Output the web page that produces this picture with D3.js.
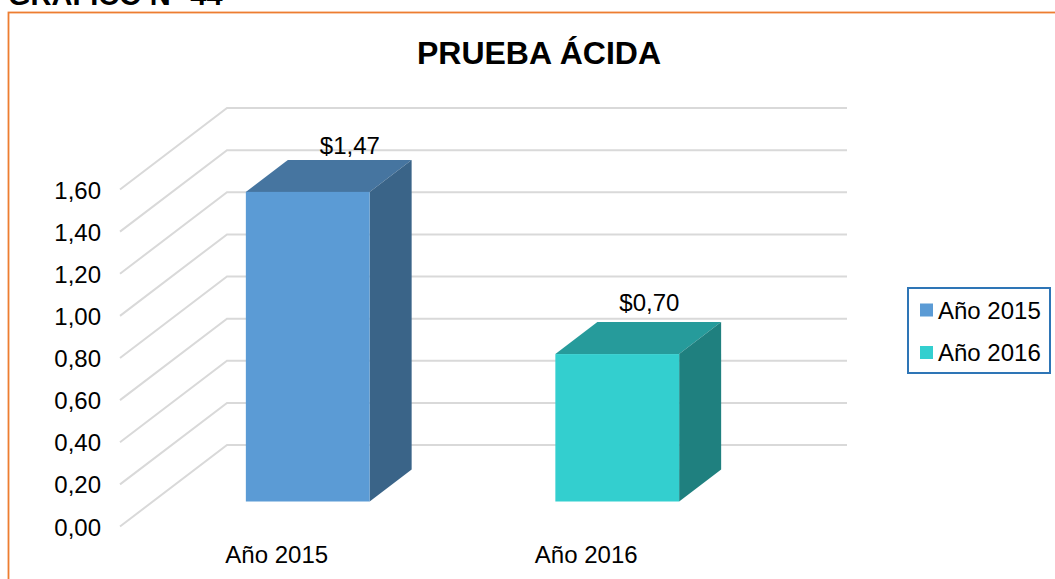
<!DOCTYPE html>
<html>
<head>
<meta charset="utf-8">
<script src="https://cdn.jsdelivr.net/npm/d3@7"></script>
<style>
html, body { margin: 0; padding: 0; background: #fff; overflow: hidden; }
text { font-family: "Liberation Sans", Arial, sans-serif; fill: #000; }
</style>
</head>
<body>
<div id="chart"></div>
<script>
// Data
const categories = ["Año 2015", "Año 2016"];
const values = [1.47, 0.70];
const valueLabels = ["$1,47", "$0,70"];
const yTicks = [0, 0.2, 0.4, 0.6, 0.8, 1.0, 1.2, 1.4, 1.6];
const frontColors = ["#5b9bd5", "#33cfcf"];
const topColors = ["#4675a0", "#269b9b"];
const sideColors = ["#3a6488", "#1f807f"];

const width = 1055, height = 579;

const svg = d3.select("#chart")
  .append("svg")
  .attr("width", width)
  .attr("height", height);

// Left wall front edge, the back wall sits up and to the right of it
const wallX = 120, backX = 227, gridEnd = 847, wallDy = -81.5;
const y = d3.scaleLinear().domain([0, 1.6]).range([526.5, 189.5]);

const x = d3.scaleBand()
  .domain(categories)
  .range([122, 741])
  .paddingInner(0.6)
  .paddingOuter(0.3);

// Bars stand 25px above the front of the floor, depth of the box is 42/-32
const barShift = 31, barLift = 25, depthX = 42, depthY = -32;

// Heading cut by the top of the page
svg.append("text")
  .attr("x", 8)
  .attr("y", 5)
  .style("font-size", "29px")
  .style("font-weight", "700")
  .text("GRÁFICO N° 44");

// Orange frame, runs off the page on the right and bottom
svg.append("rect")
  .attr("x", 8.5)
  .attr("y", 12.5)
  .attr("width", 1100)
  .attr("height", 620)
  .attr("fill", "#fff")
  .attr("stroke", "#ed7d31")
  .attr("stroke-width", 1.8);

svg.append("text")
  .attr("x", 539)
  .attr("y", 64)
  .attr("text-anchor", "middle")
  .style("font-size", "32px")
  .style("font-weight", "700")
  .text("PRUEBA ÁCIDA");

// Gridlines
svg.selectAll(".grid")
  .data(yTicks)
  .enter()
  .append("polyline")
  .attr("class", "grid")
  .attr("points", d => `${wallX},${y(d)} ${backX},${y(d) + wallDy} ${gridEnd},${y(d) + wallDy}`)
  .attr("fill", "none")
  .attr("stroke", "#d9d9d9")
  .attr("stroke-width", 2);

// Y tick labels
svg.selectAll(".y-label")
  .data(yTicks)
  .enter()
  .append("text")
  .attr("class", "y-label")
  .attr("x", 101)
  .attr("y", d => y(d) + 9)
  .attr("text-anchor", "end")
  .style("font-size", "24px")
  .text(d => d.toFixed(2).replace(".", ","));

// Bars
const bars = svg.selectAll(".bar")
  .data(categories)
  .enter()
  .append("g")
  .attr("class", "bar");

const barLeft = d => x(d) + barShift;
const barRight = d => barLeft(d) + x.bandwidth();
const barBase = y(0) - barLift;
const barTop = i => y(values[i]) - barLift;

bars.append("polygon")
  .attr("points", (d, i) => {
    const t = barTop(i);
    return `${barLeft(d)},${t} ${barRight(d)},${t} ${barRight(d) + depthX},${t + depthY} ${barLeft(d) + depthX},${t + depthY}`;
  })
  .attr("fill", (d, i) => topColors[i]);

bars.append("polygon")
  .attr("points", (d, i) => {
    const t = barTop(i);
    return `${barRight(d)},${t} ${barRight(d) + depthX},${t + depthY} ${barRight(d) + depthX},${barBase + depthY} ${barRight(d)},${barBase}`;
  })
  .attr("fill", (d, i) => sideColors[i]);

bars.append("rect")
  .attr("x", d => barLeft(d))
  .attr("y", (d, i) => barTop(i))
  .attr("width", x.bandwidth())
  .attr("height", (d, i) => barBase - barTop(i))
  .attr("fill", (d, i) => frontColors[i]);

// Value labels over the bars, each one sits a bit differently
const labelDx = [104, 94], labelDy = [-5.5, -11.5];

bars.append("text")
  .attr("x", (d, i) => barLeft(d) + labelDx[i])
  .attr("y", (d, i) => barTop(i) + depthY + labelDy[i])
  .attr("text-anchor", "middle")
  .style("font-size", "24px")
  .text((d, i) => valueLabels[i]);

// Category labels
svg.selectAll(".x-label")
  .data(categories)
  .enter()
  .append("text")
  .attr("class", "x-label")
  .attr("x", d => x(d) + x.bandwidth() / 2)
  .attr("y", 563)
  .attr("text-anchor", "middle")
  .style("font-size", "24px")
  .text(d => d);

// Legend
const legend = svg.append("g").attr("transform", "translate(908,288)");

legend.append("rect")
  .attr("width", 142)
  .attr("height", 85)
  .attr("fill", "#fff")
  .attr("stroke", "#2e75b6")
  .attr("stroke-width", 2);

const legendY = d3.scalePoint().domain(categories).range([21.5, 64]);

legend.selectAll("rect.key")
  .data(categories)
  .enter()
  .append("rect")
  .attr("class", "key")
  .attr("x", 12)
  .attr("y", d => legendY(d) - 6)
  .attr("width", 13)
  .attr("height", 13)
  .attr("fill", (d, i) => frontColors[i]);

legend.selectAll("text")
  .data(categories)
  .enter()
  .append("text")
  .attr("x", 30)
  .attr("y", d => legendY(d) + 9)
  .style("font-size", "24px")
  .text(d => d);
</script>
</body>
</html>
